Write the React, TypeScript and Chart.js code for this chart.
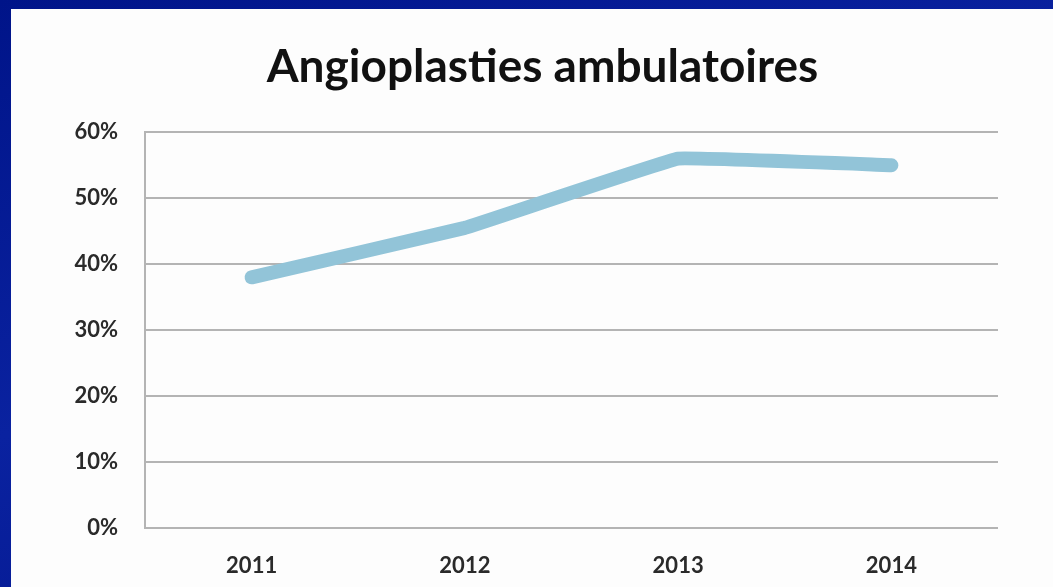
import React, { useEffect, useRef } from "react";
import { Chart, registerables } from "chart.js";

Chart.register(...registerables);

const years = ["2011", "2012", "2013", "2014"];
const ambulatoryShare = [38, 45.5, 56, 55];
const yTicks = [0, 10, 20, 30, 40, 50, 60];
const chartTitle = "Angioplasties ambulatoires";

const titleShift = {
  id: "titleShift",
  afterLayout(c: any) {
    const t = c.titleBlock;
    if (t) {
      t.left += 38;
      t.right += 38;
    }
  },
};

export default function App() {
  const ref = useRef<HTMLCanvasElement | null>(null);

  useEffect(() => {
    if (!ref.current) return;
    const chart = new Chart(ref.current, {
      type: "line",
      data: {
        labels: years,
        datasets: [
          {
            data: ambulatoryShare,
            borderColor: "#92c4d8",
            borderWidth: 14,
            borderCapStyle: "round",
            borderJoinStyle: "round",
            pointRadius: 0,
            tension: 0.05,
            fill: false,
          },
        ],
      },
      plugins: [titleShift],
      options: {
        animation: false,
        responsive: false,
        maintainAspectRatio: false,
        layout: { padding: { left: 0, right: 55, top: 0, bottom: 0 } },
        plugins: {
          legend: { display: false },
          tooltip: { enabled: false },
          title: {
            display: true,
            text: chartTitle,
            color: "#111111",
            font: { family: "Lato", size: 46, weight: "bold" },
            padding: { top: 31, bottom: 37 },
          },
        },
        scales: {
          x: {
            offset: true,
            grid: { display: false, drawTicks: false },
            border: { display: false },
            ticks: {
              color: "#2a2a2a",
              font: { family: "Lato", size: 22, weight: "bold" },
              padding: 25,
              maxRotation: 0,
            },
            afterFit: (s: any) => {
              s.height = 59;
            },
          },
          y: {
            min: 0,
            max: 60,
            afterBuildTicks: (s: any) => {
              s.ticks = yTicks.map((v) => ({ value: v }));
            },
            grid: {
              color: "#b4b4b4",
              lineWidth: 2,
              drawTicks: false,
            },
            border: { display: true, color: "#b4b4b4", width: 2 },
            ticks: {
              color: "#2a2a2a",
              font: { family: "Lato", size: 22, weight: "bold" },
              padding: 27,
              callback: (v: any) => v + "%",
            },
            afterFit: (s: any) => {
              s.width = 134;
            },
          },
        },
      },
    });
    return () => chart.destroy();
  }, []);

  return (
    <div
      style={{
        position: "fixed",
        left: 0,
        top: 0,
        width: 1053,
        height: 587,
        overflow: "hidden",
        background: "linear-gradient(160deg, #001489 0%, #0a22a0 45%, #001287 100%)",
      }}
    >
      <div
        style={{
          position: "absolute",
          left: 11,
          top: 9,
          width: 1042,
          height: 578,
          background: "#fdfdfd",
        }}
      >
        <canvas ref={ref} width={1042} height={578} style={{ display: "block" }} />
      </div>
    </div>
  );
}
